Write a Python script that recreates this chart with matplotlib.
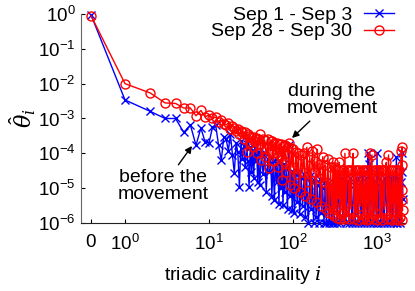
import numpy as np
import matplotlib
matplotlib.use("Agg")
import matplotlib.pyplot as plt

plt.rcParams['font.family'] = ['Liberation Sans', 'DejaVu Sans']
plt.rcParams['mathtext.fontset'] = 'custom'
plt.rcParams['mathtext.rm'] = 'Liberation Sans'
plt.rcParams['mathtext.it'] = 'DejaVu Serif:italic'
plt.rcParams['mathtext.bf'] = 'Liberation Sans:bold'

# ---------------- data ----------------
blue_label = "Sep 1 - Sep 3"
red_label = "Sep 28 - Sep 30"

blue_i = [0, 1, 2, 3, 4, 5, 6, 7, 8, 9, 10, 11, 12, 13, 14, 15, 16, 17, 18, 19, 20,
          21, 22, 23, 24, 25, 26, 27, 28, 29, 30,
          31, 32, 33, 34, 35, 36, 37, 38, 39, 40, 42, 44, 46, 48, 50, 52, 54, 56, 58, 60,
          62, 64, 66, 68, 70, 72, 74, 76, 78, 80, 83, 86, 89, 92, 95, 98,
          100, 104, 108, 112, 116, 120, 125, 130, 135, 140, 146, 152, 158, 164, 170, 176,
          182, 188, 195, 202, 210, 218, 226, 234, 242, 250, 260, 270, 280, 290,
          300, 310, 322, 335, 348, 362, 377, 392, 408, 425, 443, 462, 482, 503, 525, 548,
          572, 597, 623, 650, 678, 707, 737, 768, 780, 800, 834, 870, 907, 945, 985, 1000,
          1027, 1070, 1115, 1160, 1210, 1260, 1310, 1365, 1420, 1480, 1540, 1600, 1665,
          1700, 1735, 1800, 1870, 1940, 1990, 2010, 2030]
blue_v = [0.95, 3.4e-3, 1.6e-3, 1.0e-3, 1.0e-3, 4e-4, 6.5e-4, 1.7e-4, 5.3e-4, 2.1e-4, 2e-4,
          5.6e-4, 6.5e-4, 1.7e-4, 6.3e-5, 3e-4, 2.5e-4, 1.2e-4, 3.5e-4, 9e-5, 2.7e-5,
          2e-4, 1.1e-4, 1.1e-5, 2.2e-4, 7e-5, 1.6e-4, 4e-5, 1.8e-4, 6e-5, 1.1e-5,
          1.5e-4, 3e-5, 1.2e-4, 2e-5, 1.4e-4, 6e-5, 1.0e-4, 1.5e-5, 1.1e-4, 1.2e-5, 9e-5,
          2.5e-5, 1.0e-4, 8e-6, 7e-5, 3e-5, 8e-5, 6e-6, 6e-5, 4.5e-6,
          7e-5, 1.5e-5, 5e-5, 3.5e-6, 6e-5, 1e-5, 4e-5, 3.3e-6, 5e-5, 8e-6, 3.5e-5, 2.5e-6,
          1.7e-4, 6e-6, 3e-5, 2.3e-6,
          3e-5, 2e-6, 2.5e-5, 4e-6, 2.8e-5, 1.8e-6, 2e-5, 3e-6, 2.5e-5, 1.5e-6, 1.8e-5, 1e-6,
          2.2e-5, 2.5e-6, 1.5e-5, 1e-6, 2e-5, 1.5e-6, 1.2e-5, 1e-6, 1.8e-5, 2e-6, 1e-5, 1e-6,
          1.5e-5, 1e-6, 1e-5, 1e-6, 1.2e-5, 1e-6,
          1.5e-5, 1e-6, 2e-5, 1e-6, 1.2e-5, 1e-6, 2e-5, 1.5e-6, 1e-5, 1e-6, 1.5e-5, 1e-6,
          2e-5, 1e-6, 1.2e-5, 1e-6, 2e-5, 1e-6, 1.5e-5, 1e-6, 2.5e-5, 1e-6, 2e-5, 1e-6,
          1.0e-4, 5e-5, 1e-6, 2e-5, 1e-6, 1.5e-5, 1e-6, 1e-4,
          1e-6, 2e-5, 1e-6, 1.5e-5, 1e-6, 2e-5, 1e-6, 2e-5, 1e-6, 2e-5, 1e-6, 2e-5, 1e-6,
          8e-5, 1e-6, 2e-5, 1e-6, 1.5e-5, 1e-4, 3e-5, 5e-6]

red_i = [0, 1, 2, 3, 4, 5, 6, 7, 8, 9, 10, 11, 12, 13, 14, 15, 16, 17, 18, 19, 20,
         21, 22, 23, 24, 25, 26, 27, 28, 29,
         30, 31, 32, 33, 34, 35, 36, 37, 38, 39, 40, 42, 44, 45, 46, 48, 50, 52, 54, 55,
         56, 58, 60, 62, 64, 66, 68, 70, 72, 74, 76, 78, 80, 83, 86, 89, 92, 95, 98,
         100, 104, 108, 112, 116, 120, 125, 130, 135, 140, 146, 152, 158, 164, 170, 176,
         182, 188, 195, 202, 210, 218, 226, 234, 242, 250, 260, 270, 280, 290,
         300, 305, 312, 318, 325, 332, 340, 348, 356, 365, 375, 385, 395, 405, 415, 425,
         437, 450, 463, 476, 490, 505, 520, 535, 550, 566, 582, 600, 618, 636, 655, 675,
         695, 715, 735, 755, 778, 800, 822, 845, 870, 895, 920, 946, 973, 1000, 1030,
         1060, 1090, 1120, 1150, 1185, 1220, 1255, 1290, 1330, 1370, 1410, 1450, 1495,
         1540, 1585, 1630, 1680, 1730, 1780, 1830, 1880, 1930, 1960, 1975, 1985, 1995,
         2005, 2015]
red_v = [0.9, 1.0e-2, 5.4e-3, 2.8e-3, 2.7e-3, 2.0e-3, 2.0e-3, 1.2e-3, 1.7e-3, 1.1e-3, 1.3e-3,
         1.0e-3, 1.1e-3, 8e-4, 9e-4, 7e-4, 6.5e-4, 7.5e-4, 5e-4, 6e-4, 5.5e-4,
         4.5e-4, 5e-4, 3.5e-4, 4.5e-4, 4e-4, 2.5e-4, 4e-4, 1.1e-4, 3.5e-4,
         3.2e-4, 2.0e-4, 3.0e-4, 1.5e-4, 3.0e-4, 2.2e-4, 2.8e-4, 1.0e-4, 2.6e-4, 1.8e-4,
         3.5e-4, 6.3e-5, 2.6e-4, 1.4e-4, 2.4e-4, 8e-5, 2.5e-4, 3.7e-5, 2.2e-4, 1.2e-4,
         2.3e-4, 6e-5, 2.0e-4, 1.0e-4, 2.0e-4, 4e-5, 1.8e-4, 9e-5, 1.9e-4, 1.7e-5, 1.6e-4,
         6e-5, 1.7e-4, 3e-5, 1.5e-4, 2.0e-4, 1.2e-5, 1.4e-4, 4e-5,
         1.3e-4, 1.0e-5, 1.1e-4, 2.5e-5, 1.0e-4, 8e-6, 9e-5, 3e-5, 1.0e-4, 6e-6, 1.5e-4,
         1.5e-5, 8e-5, 5e-6, 1.2e-4, 3e-5, 6e-5, 4e-6, 1.3e-4, 2e-5, 5e-5, 3e-6, 8e-5,
         1.5e-5, 4.5e-5, 2.5e-6, 7e-5, 2e-6, 4e-5, 1.8e-6,
         5.5e-5, 1.6e-6, 4e-5, 2.5e-6, 3.5e-5, 1.4e-6, 3.3e-5, 5e-6, 5.5e-5, 1.3e-6, 3.3e-5,
         2e-6, 3.3e-5, 1.3e-6, 1.0e-4, 1.5e-6,
         3.3e-5, 3.3e-5, 1.3e-6, 3.3e-5, 2.5e-6, 3.3e-5, 1.0e-4, 1.3e-6, 3.3e-5, 1.6e-6,
         3.3e-5, 1.2e-6, 3.3e-5, 3e-6, 3.3e-5, 1.3e-6,
         3.3e-5, 1.5e-6, 3.3e-5, 1.2e-6, 3.3e-5, 1.3e-6, 1.0e-4, 1.5e-6, 9e-5, 1.3e-6,
         3.3e-5, 2e-6, 3.3e-5, 1.2e-6, 3.3e-5,
         3.3e-5, 1.4e-6, 3.3e-5, 1.2e-6, 3.3e-5, 2.5e-6, 3.3e-5, 5.5e-5, 1.3e-6, 9e-5,
         1.3e-6, 3.3e-5, 1.2e-6,
         3.3e-5, 1.6e-6, 3.3e-5, 1.3e-6, 3.3e-5, 1.2e-6, 3.3e-5, 1.5e-6, 1.2e-4, 1.2e-6,
         4.5e-5, 9e-6, 1.5e-4,
         4.6e-6, 2.3e-6]

x_tick_labels = ['0', '$\\mathrm{10^{0}}$', '$\\mathrm{10^{1}}$', '$\\mathrm{10^{2}}$', '$\\mathrm{10^{3}}$']
y_tick_labels = ['$\\mathrm{10^{-6}}$', '$\\mathrm{10^{-5}}$', '$\\mathrm{10^{-4}}$',
                 '$\\mathrm{10^{-3}}$', '$\\mathrm{10^{-2}}$', '$\\mathrm{10^{-1}}$', '$\\mathrm{10^{0}}$']

# position used on the log axis for cardinality 0
ZERO_POS = 10 ** -0.405

def xpos(vals):
    a = np.asarray(vals, dtype=float)
    return np.where(a == 0, ZERO_POS, a)

# ---------------- figure ----------------
fig = plt.figure(figsize=(4.15, 2.91), dpi=100)
ax = fig.add_axes([81 / 415, 1 - 223 / 291, (405 - 81) / 415, (223 - 14) / 291])

ax.plot(xpos(blue_i), blue_v, color='#0000ff', marker='x', ms=6, mew=1.0, lw=1.0,
        label=blue_label, clip_on=False, zorder=3)
ax.plot(xpos(red_i), red_v, color='#ff0000', marker='o', ms=6.5, mew=1.0, mfc='none', lw=1.0,
        label=red_label, clip_on=False, zorder=4)

ax.set_xscale('log')
ax.set_yscale('log')
ax.set_xlim(10 ** -0.524, 2154)
ax.set_ylim(1e-6, 1.0)

ax.set_xticks([ZERO_POS, 1, 10, 100, 1000])
ax.set_xticklabels(x_tick_labels)
ax.set_yticks([1e-6, 1e-5, 1e-4, 1e-3, 1e-2, 1e-1, 1])
ax.set_yticklabels(y_tick_labels)
ax.minorticks_off()
ax.tick_params(direction='in', length=3, width=0.8, labelsize=13.5)
ax.tick_params(axis='y', pad=4)
ax.tick_params(axis='x', pad=8)

for s in ['top', 'right']:
    ax.spines[s].set_visible(False)
ax.spines['left'].set_color('#666666')
ax.spines['bottom'].set_color('#222222')

ax.set_xlabel('triadic cardinality $i$', fontsize=14, labelpad=7)
ax.set_ylabel('$\\hat{\\theta}_i$', fontsize=16, labelpad=0)

fig.legend(loc='upper right', bbox_to_anchor=(0.972, 1.012), frameon=False,
           markerfirst=False, numpoints=1, fontsize=14, handlelength=1.55,
           handletextpad=0.6, labelspacing=-0.05, borderpad=0.0)

ax.annotate('during the\nmovement', xy=(292, 291 - 138), xycoords='figure pixels',
            xytext=(332, 291 - 100), textcoords='figure pixels', ha='center', va='center',
            fontsize=14, linespacing=1.05,
            arrowprops=dict(arrowstyle='-|>', color='black', lw=1.0, shrinkA=1, shrinkB=0,
                            mutation_scale=10))
ax.annotate('before the\nmovement', xy=(192, 291 - 146), xycoords='figure pixels',
            xytext=(163, 291 - 186), textcoords='figure pixels', ha='center', va='center',
            fontsize=14, linespacing=1.05,
            arrowprops=dict(arrowstyle='-|>', color='black', lw=1.0, shrinkA=1, shrinkB=0,
                            mutation_scale=10))

fig.savefig('out.png', dpi=100)
